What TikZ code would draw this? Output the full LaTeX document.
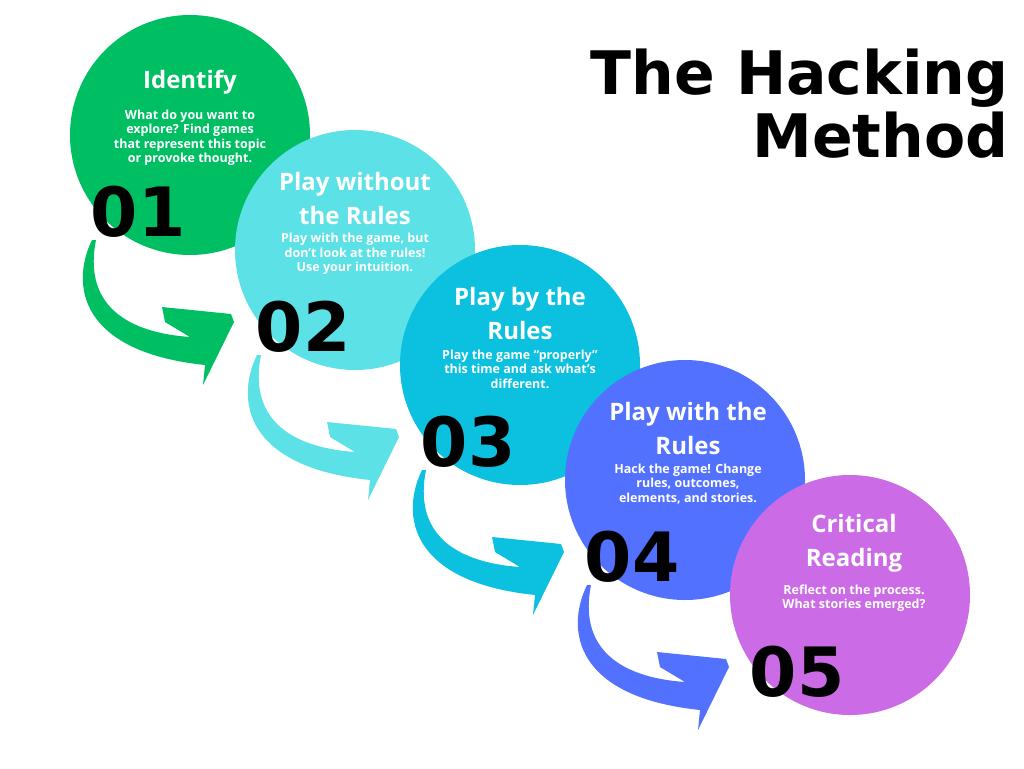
\documentclass[tikz,border=0pt]{standalone}
\usepackage{fontspec}
\setmainfont{Open Sans}
\newfontfamily\heavy{DejaVu Sans}
\definecolor{cA}{HTML}{00BF63}
\definecolor{cB}{HTML}{5CE1E6}
\definecolor{cC}{HTML}{0CC0DF}
\definecolor{cD}{HTML}{5271FF}
\definecolor{cE}{HTML}{CB6CE6}
\begin{document}
\begin{tikzpicture}[x=1pt,y=-1pt,
  ttl/.style={text=white,font=\fontsize{24}{34}\selectfont\bfseries,align=center},
  body/.style={text=white,font=\fontsize{12.5}{14.5}\selectfont\bfseries,align=center},
  num/.style={font=\heavy\fontsize{68}{68}\selectfont\bfseries},
  arrowshape/.pic={\fill[pic actions] (92,240) .. controls (70,285) and (80,352) .. (205,365) -- (203,385) -- (234,322) -- (231,314) -- (162,307) -- (165,322) -- (190,337) .. controls (120,332) and (84,300) .. (96,240) -- cycle;}]
\useasboundingbox (0,0) rectangle (1024,768);
\foreach \i/\c in {0/cA,1/cB,2/cC,3/cD,4/cE}{
  \fill[\c] (190+165*\i,135+115*\i) circle (120);
}
\foreach \i/\c in {0/cA,1/cB,2/cC,3/cD}{
  \pic[fill=\c] at (165*\i,115*\i) {arrowshape};
}
\node[ttl] (t1) at (190,82) {Identify};
\node[body] (b1) at (190,138) {What do you want to\\explore? Find games\\that represent this topic\\or provoke thought.};
\node[num] (n1) at (138,212) {01};
\node[ttl] (t2) at (355,198) {Play without\\the Rules};
\node[body] (b2) at (355,254) {Play with the game, but\\don't look at the rules!\\Use your intuition.};
\node[num] (n2) at (303,327) {02};
\node[ttl] (t3) at (520,313) {Play by the\\Rules};
\node[body] (b3) at (520,369) {Play the game “properly”\\this time and ask what's\\different.};
\node[num] (n3) at (468,442) {03};
\node[ttl] (t4) at (688,428) {Play with the\\Rules};
\node[body] (b4) at (688,484) {Hack the game! Change\\rules, outcomes,\\elements, and stories.};
\node[num] (n4) at (632,557) {04};
\node[ttl] (t5) at (854,543) {Critical\\Reading};
\node[body] (b5) at (854,598) {Reflect on the process.\\What stories emerged?};
\node[num] (n5) at (797,672) {05};
\node[font=\heavy\fontsize{60}{63}\selectfont\bfseries,align=right,anchor=north east] (title) at (1012,45) {The Hacking\\Method};
\end{tikzpicture}
\end{document}
